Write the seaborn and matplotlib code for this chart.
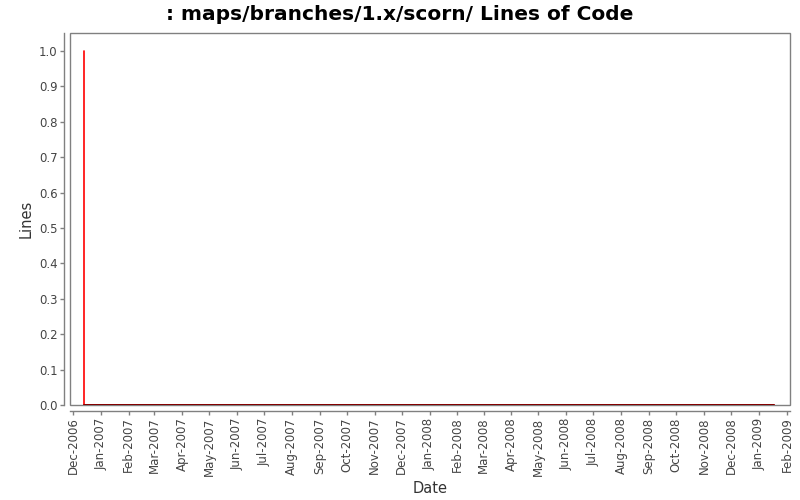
#!/usr/bin/env python
"""
  Lines of Code chart for maps/branches/1.x/scorn/
"""

import matplotlib

matplotlib.use("Agg")
import matplotlib.pyplot as plt
import matplotlib.dates as mdates
from matplotlib.patches import Rectangle
import seaborn as sns
import pandas as pd

TITLE = ": maps/branches/1.x/scorn/ Lines of Code"
DATES = ["2006-12-13", "2006-12-13", "2009-01-18"]
LINES = [1, 0, 0]
Y_TICKS = [0.0, 0.1, 0.2, 0.3, 0.4, 0.5, 0.6, 0.7, 0.8, 0.9, 1.0]
X_RANGE = ["2006-11-27 16:00", "2009-02-04 08:00"]

AXIS_GREY = "#808080"
TEXT_GREY = "#444444"


def main():
    sns.set_theme(style="white")
    plt.rcParams["font.family"] = ["DejaVu Sans"]

    frame = pd.DataFrame({"date": pd.to_datetime(DATES), "lines": LINES})

    fig = plt.figure(figsize=(8, 5), dpi=100)
    ax = fig.add_axes([70 / 800, 95 / 500, 720 / 800, 372 / 500])

    sns.lineplot(data=frame, x="date", y="lines", estimator=None, sort=False,
                 color="#ff0000", linewidth=1.2, ax=ax)
    flat = frame[frame["lines"] == 0]
    sns.lineplot(data=flat, x="date", y="lines", estimator=None, sort=False,
                 color="#800000", linewidth=1.4, ax=ax)

    ax.set_xlim(pd.to_datetime(X_RANGE[0]), pd.to_datetime(X_RANGE[1]))
    ax.set_ylim(0, 1.051)
    ax.set_yticks(Y_TICKS)
    ax.yaxis.set_major_formatter(matplotlib.ticker.FormatStrFormatter("%.1f"))
    ax.xaxis.set_major_locator(mdates.MonthLocator())
    ax.xaxis.set_major_formatter(mdates.DateFormatter("%b-%Y"))

    # plot box plus offset axis lines, JFreeChart style
    ax.add_patch(Rectangle((0, 0), 1, 1, transform=ax.transAxes, fill=False,
                           edgecolor=AXIS_GREY, linewidth=1, clip_on=False, zorder=1))
    for side in ("top", "right"):
        ax.spines[side].set_visible(False)
    for side in ("left", "bottom"):
        ax.spines[side].set_position(("outward", 4))
        ax.spines[side].set_color(AXIS_GREY)
        ax.spines[side].set_linewidth(1)

    ax.tick_params(axis="both", which="major", length=3, width=1, color=AXIS_GREY,
                   labelsize=8.5, labelcolor=TEXT_GREY, direction="out",
                   left=True, bottom=True, pad=2)
    ax.tick_params(axis="x", labelrotation=90)

    ax.set_xlabel("Date", fontsize=10.5, color="#333333", labelpad=4)
    ax.set_ylabel("Lines", fontsize=10.5, color="#333333", labelpad=4)
    fig.suptitle(TITLE, fontsize=14.5, fontweight="bold", color="black", y=0.99)

    fig.savefig("out.png", dpi=100)


if __name__ == "__main__":
    main()
